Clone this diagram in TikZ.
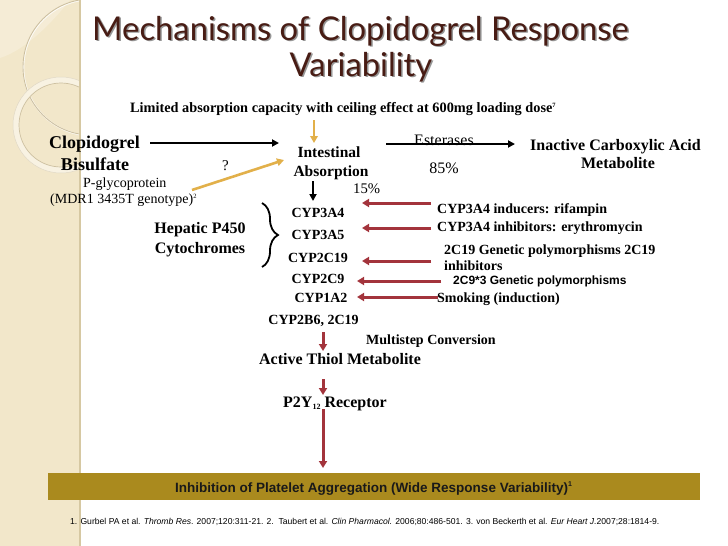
\documentclass[tikz,border=0pt]{standalone}
\usepackage{fontspec}
\setmainfont{Liberation Serif}
\newfontfamily\titlefont{Lato}
\newfontfamily\arialfont{Liberation Sans}
\usetikzlibrary{arrows.meta,decorations.pathreplacing}
\newcommand\fsz[1]{\fontsize{#1}{#1}\selectfont}
\newcommand\tinysup[1]{{\fsz{6.5}\raisebox{5pt}{#1}}}
\definecolor{stripbg}{RGB}{242,231,202}
\definecolor{stripedge}{RGB}{214,200,162}
\definecolor{ringlight}{RGB}{248,242,226}
\definecolor{ringdark}{RGB}{205,192,160}
\definecolor{titlebrown}{RGB}{72,28,20}
\definecolor{titleshadow}{RGB}{150,150,150}
\definecolor{arrred}{RGB}{163,52,60}
\definecolor{arrgold}{RGB}{226,176,74}
\definecolor{bargold}{RGB}{170,138,30}
\tikzset{
  lbl/.style={inner sep=0pt, anchor=base},
  lblw/.style={inner sep=0pt, anchor=base west},
  titletext/.style={lbl, font=\titlefont\fsz{32.8}},
  bigb/.style={font=\bfseries\fsz{16}},
  midb/.style={font=\bfseries\fsz{14}},
  reg/.style={font=\fsz{14}},
  redarrow/.style={draw=arrred, line width=3pt, -{Triangle[length=7pt,width=8pt]}},
  goldarrow/.style={draw=arrgold, line width=2.6pt, -{Triangle[length=7pt,width=7.5pt]}},
  blackarrow/.style={draw=black, line width=2.2pt, -{Triangle[length=7pt,width=7pt]}},
}
\begin{document}
\begin{tikzpicture}[x=1pt,y=-1pt]
\useasboundingbox (0,0) rectangle (728,546);
\fill[white] (0,0) rectangle (728,546);
% left decorative strip
\fill[stripbg] (0,0) rectangle (80,546);
\begin{scope}
  \clip (0,0) rectangle (80,546);
  \fill[ringlight, opacity=0.5] (0,0) -- (0,58) .. controls (25,50) and (50,25) .. (70,0) -- cycle;
  \draw[white, line width=1.6pt, opacity=0.8] (91.5,67.5) circle (68);
  \draw[ringdark, line width=0.9pt] (91,67) circle (68);
  \draw[ringlight, line width=6pt] (61,125) circle (45);
  \draw[ringdark, line width=0.7pt] (61,125) circle (42);
  \draw[ringdark!60, line width=0.5pt] (61,125) circle (48);
\end{scope}
\draw[stripedge, line width=1.5pt] (80,0) -- (80,546);

% title with shadow
\node[titletext, text=titleshadow] (t1s) at (362,41.5) {Mechanisms of Clopidogrel Response};
\node[titletext, text=titlebrown] (t1) at (360.5,40) {Mechanisms of Clopidogrel Response};
\node[titletext, text=titleshadow] (t2s) at (362.5,77.5) {Variability};
\node[titletext, text=titlebrown] (t2) at (361,76) {Variability};

% top line
\node[lblw, font=\bfseries\fsz{14.3}] (limited) at (130,112) {Limited absorption capacity with ceiling effect at 600mg loading dose\tinysup{7}};

% clopidogrel
\node[lblw, font=\bfseries\fsz{18}] (clop1) at (49,148) {Clopidogrel};
\node[lbl, font=\bfseries\fsz{18}] (clop2) at (95,170) {Bisulfate};
\node[lbl, font=\fsz{15}] (q) at (225.5,170) {?};
\node[lblw, reg] (pgp1) at (83,187) {P-glycoprotein};
\node[lblw, reg] (pgp2) at (50,203) {(MDR1 3435T genotype)\tinysup{2}};

% intestinal absorption
\node[lbl, font=\bfseries\fsz{15.5}] (int1) at (329,157) {Intestinal};
\node[lbl, font=\bfseries\fsz{15.5}] (int2) at (331,176) {Absorption};
\node[lblw, font=\fsz{14.7}] (p15) at (353,193) {15\%};

% esterases
\node[lbl, font=\fsz{16}] (est) at (444,145) {Esterases};
\node[lbl, font=\fsz{16}] (p85) at (444,173) {85\%};
\node[lbl, bigb] (inact1) at (615.5,150) {Inactive Carboxylic Acid};
\node[lbl, bigb] (inact2) at (618,168) {Metabolite};

% hepatic
\node[lbl, bigb] (hep1) at (200,233) {Hepatic P450};
\node[lbl, bigb] (hep2) at (200,253) {Cytochromes};
\coordinate (brtop) at (262,203);
\coordinate (brbot) at (262,267);
\draw[line width=1.8pt, decorate, decoration={brace, amplitude=16pt}] (brtop) -- (brbot);

\node[lbl, midb] (c1) at (318,217) {CYP3A4};
\node[lbl, midb] (c2) at (318,239) {CYP3A5};
\node[lbl, midb] (c3) at (318,262) {CYP2C19};
\node[lbl, midb] (c4) at (318,283) {CYP2C9};
\node[lbl, midb] (c5) at (321,302) {CYP1A2};

\node[lblw, midb] (l1) at (437,213) {CYP3A4 inducers: rifampin};
\node[lblw, midb] (l2) at (437,231) {CYP3A4 inhibitors: erythromycin};
\node[lblw, midb] (l3) at (444,254) {2C19 Genetic polymorphisms 2C19};
\node[lblw, midb] (l3b) at (444,270) {inhibitors};
\node[lblw, font=\arialfont\bfseries\fsz{12}] (l4) at (453,284) {2C9*3 Genetic polymorphisms};
\node[lblw, midb] (l5) at (437,302) {Smoking (induction)};

\node[lbl, midb] (c6) at (313.5,324) {CYP2B6, 2C19};
\node[lblw, midb] (multi) at (366,344) {Multistep Conversion};
\node[lbl, bigb] (thiol) at (340,364) {Active Thiol Metabolite};
\node[lblw, bigb] (p2y) at (283,407) {P2Y{\fsz{8}\raisebox{-2.5pt}{12}} Receptor};

% bottom bar
\fill[bargold] (48,473) rectangle (700,500);
\node[lbl, font=\arialfont\bfseries\fsz{13.5}, text=black!90] (bar) at (373.5,492.5) {Inhibition of Platelet Aggregation (Wide Response Variability){\fsz{7}\raisebox{6pt}{1}}};
\node[lblw, font=\arialfont\fsz{8.6}] (foot) at (70,524) {1. Gurbel PA et al. \textit{Thromb Res}. 2007;120:311-21. 2.\ \ Taubert et al. \textit{Clin Pharmacol.} 2006;80:486-501. 3. von Beckerth et al. \textit{Eur Heart J.}2007;28:1814-9.};

% arrow coordinates
\coordinate (a1s) at (150,143); \coordinate (a1e) at (279,143);
\coordinate (a2s) at (386,144); \coordinate (a2e) at (515,144);
\coordinate (g1s) at (314,120); \coordinate (g1e) at (314,143);
\coordinate (g2s) at (192,190); \coordinate (g2e) at (284,160);
\coordinate (b1s) at (313,181); \coordinate (b1e) at (313,201);
\coordinate (r1s) at (431,203); \coordinate (r1e) at (362,203);
\coordinate (r2s) at (431,228); \coordinate (r2e) at (362,228);
\coordinate (r3s) at (431,261); \coordinate (r3e) at (362,261);
\coordinate (r4s) at (441,281); \coordinate (r4e) at (357,281);
\coordinate (r5s) at (438,297); \coordinate (r5e) at (357,297);
\coordinate (d1s) at (323,332); \coordinate (d1e) at (323,351);
\coordinate (d2s) at (323,379); \coordinate (d2e) at (323,395);
\coordinate (d3s) at (323,409); \coordinate (d3e) at (323,468);

\draw[blackarrow] (a1s) -- (a1e);
\draw[blackarrow] (a2s) -- (a2e);
\draw[blackarrow] (b1s) -- (b1e);
\draw[goldarrow] (g1s) -- (g1e);
\draw[goldarrow] (g2s) -- (g2e);
\draw[redarrow] (r1s) -- (r1e);
\draw[redarrow] (r2s) -- (r2e);
\draw[redarrow] (r3s) -- (r3e);
\draw[redarrow] (r4s) -- (r4e);
\draw[redarrow] (r5s) -- (r5e);
\draw[redarrow] (d1s) -- (d1e);
\draw[redarrow] (d2s) -- (d2e);
\draw[redarrow] (d3s) -- (d3e);
\end{tikzpicture}
\end{document}
